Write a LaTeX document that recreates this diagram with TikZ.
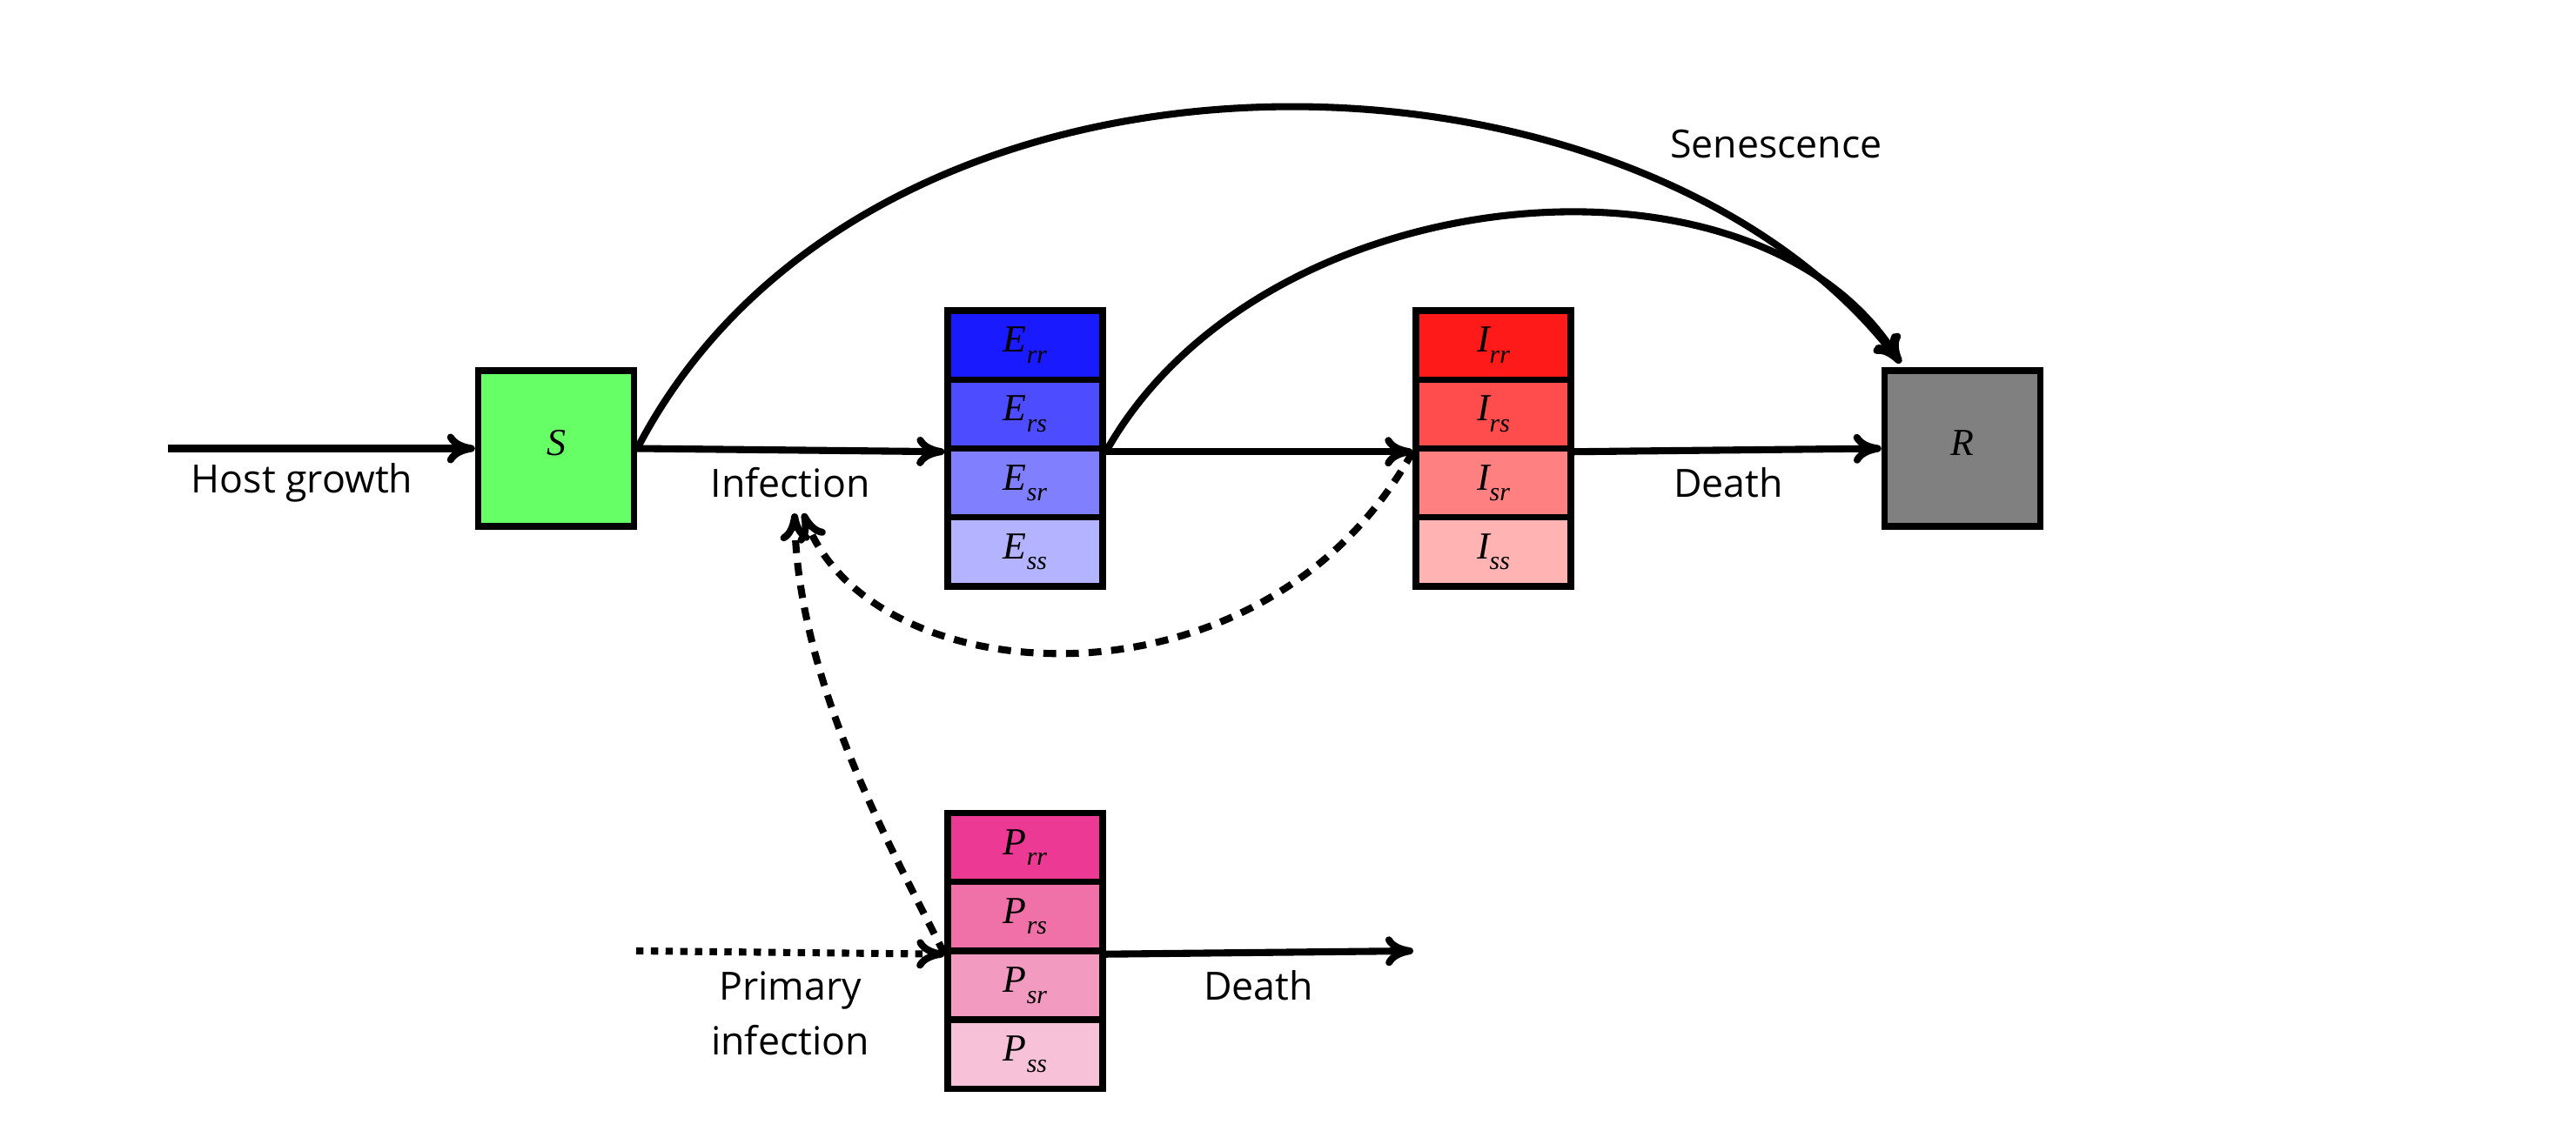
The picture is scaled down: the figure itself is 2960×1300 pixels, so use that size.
\documentclass[tikz,border=0pt]{standalone}
\usepackage{fontspec}
\setmainfont{Open Sans}
\newfontfamily\tms{Liberation Serif}
\usetikzlibrary{arrows.meta}
\definecolor{Sgreen}{RGB}{102,255,102}
\definecolor{Eone}{RGB}{26,26,255}
\definecolor{Etwo}{RGB}{77,77,255}
\definecolor{Ethree}{RGB}{128,128,255}
\definecolor{Efour}{RGB}{179,179,255}
\definecolor{Ione}{RGB}{255,26,26}
\definecolor{Itwo}{RGB}{255,77,77}
\definecolor{Ithree}{RGB}{255,128,128}
\definecolor{Ifour}{RGB}{255,179,179}
\definecolor{Pone}{RGB}{236,58,148}
\definecolor{Ptwo}{RGB}{240,113,168}
\definecolor{Pthree}{RGB}{243,154,193}
\definecolor{Pfour}{RGB}{247,193,216}
\definecolor{Rgray}{RGB}{128,128,128}
\newcommand\cmp[2]{{\fontsize{12.5}{15}\selectfont\tms\itshape #1\raisebox{-3.6pt}{\fontsize{8.5}{10}\selectfont #2}}}
\begin{document}
\begin{tikzpicture}[x=0.01cm,y=-0.01cm,
  cell/.style={draw, line width=2.1pt, minimum width=1.78cm, minimum height=0.792cm, inner sep=0pt},
  bigbox/.style={draw, line width=2.1pt, minimum width=1.79cm, minimum height=1.79cm, inner sep=0pt},
  flow/.style={line width=2.3pt, -{To[length=3.2mm,width=3.4mm]}},
  dflow/.style={flow, dash pattern=on 4.2pt off 3.2pt},
  pflow/.style={flow, dash pattern=on 2.4pt off 2.4pt},
  lbl/.style={font=\fontsize{12.7}{18}\selectfont, inner sep=0pt, align=center}]
\useasboundingbox (0,0) rectangle (2960,1300);

\node[bigbox, fill=Sgreen] (S) at (639,515.5) {\cmp{S}{}};
\node[bigbox, fill=Rgray] (R) at (2255,515.5) {\cmp{R}{}};

\node[cell, fill=Eone]   (Err) at (1178,396.7) {\cmp{E}{rr}};
\node[cell, fill=Etwo]   (Ers) at (1178,475.9) {\cmp{E}{rs}};
\node[cell, fill=Ethree] (Esr) at (1178,555.1) {\cmp{E}{sr}};
\node[cell, fill=Efour]  (Ess) at (1178,634.3) {\cmp{E}{ss}};

\node[cell, fill=Ione]   (Irr) at (1716,396.7) {\cmp{I}{rr}};
\node[cell, fill=Itwo]   (Irs) at (1716,475.9) {\cmp{I}{rs}};
\node[cell, fill=Ithree] (Isr) at (1716,555.1) {\cmp{I}{sr}};
\node[cell, fill=Ifour]  (Iss) at (1716,634.3) {\cmp{I}{ss}};

\node[cell, fill=Pone]   (Prr) at (1178,974.2) {\cmp{P}{rr}};
\node[cell, fill=Ptwo]   (Prs) at (1178,1053.4) {\cmp{P}{rs}};
\node[cell, fill=Pthree] (Psr) at (1178,1132.6) {\cmp{P}{sr}};
\node[cell, fill=Pfour]  (Pss) at (1178,1211.8) {\cmp{P}{ss}};

\node[lbl] (lhost) at (347,555) {Host growth};
\node[lbl] (linf) at (908,555) {Infection};
\node[lbl] (ldeath) at (1986,555) {Death};
\node[lbl] (lsen) at (2041,166) {Senescence};
\node[lbl] (lprim) at (908,1165) {Primary\\infection};
\node[lbl] (lpdeath) at (1446,1133) {Death};

\coordinate (hstart) at (193,515.5);
\coordinate (pstart) at (731,1093);
\coordinate (pend) at (1624,1093);
\coordinate (infA) at (913,590);
\coordinate (infB) at (923,590);
\coordinate (Rtop) at ([xshift=0.22cm,yshift=0.05cm]R.north west);

\draw[flow] (hstart) -- (S.west);
\draw[flow] (S.east) -- (Ers.south west);
\draw[flow] (Ers.south east) -- (Irs.south west);
\draw[flow] (Irs.south east) -- (R.west);
\draw[flow] (S.east) .. controls (1000,0) and (1880,20) .. (Rtop);
\draw[flow] (Ers.south east) .. controls (1450,200) and (2020,150) .. (Rtop);
\draw[dflow] (Irs.south west) .. controls (1451,830) and (1000,800) .. (infB);
\draw[dflow] (Prs.south west) .. controls (1029,983) and (917,789) .. (infA);
\draw[pflow] (pstart) -- (Prs.south west);
\draw[flow] (Prs.south east) -- (pend);
\end{tikzpicture}
\end{document}
